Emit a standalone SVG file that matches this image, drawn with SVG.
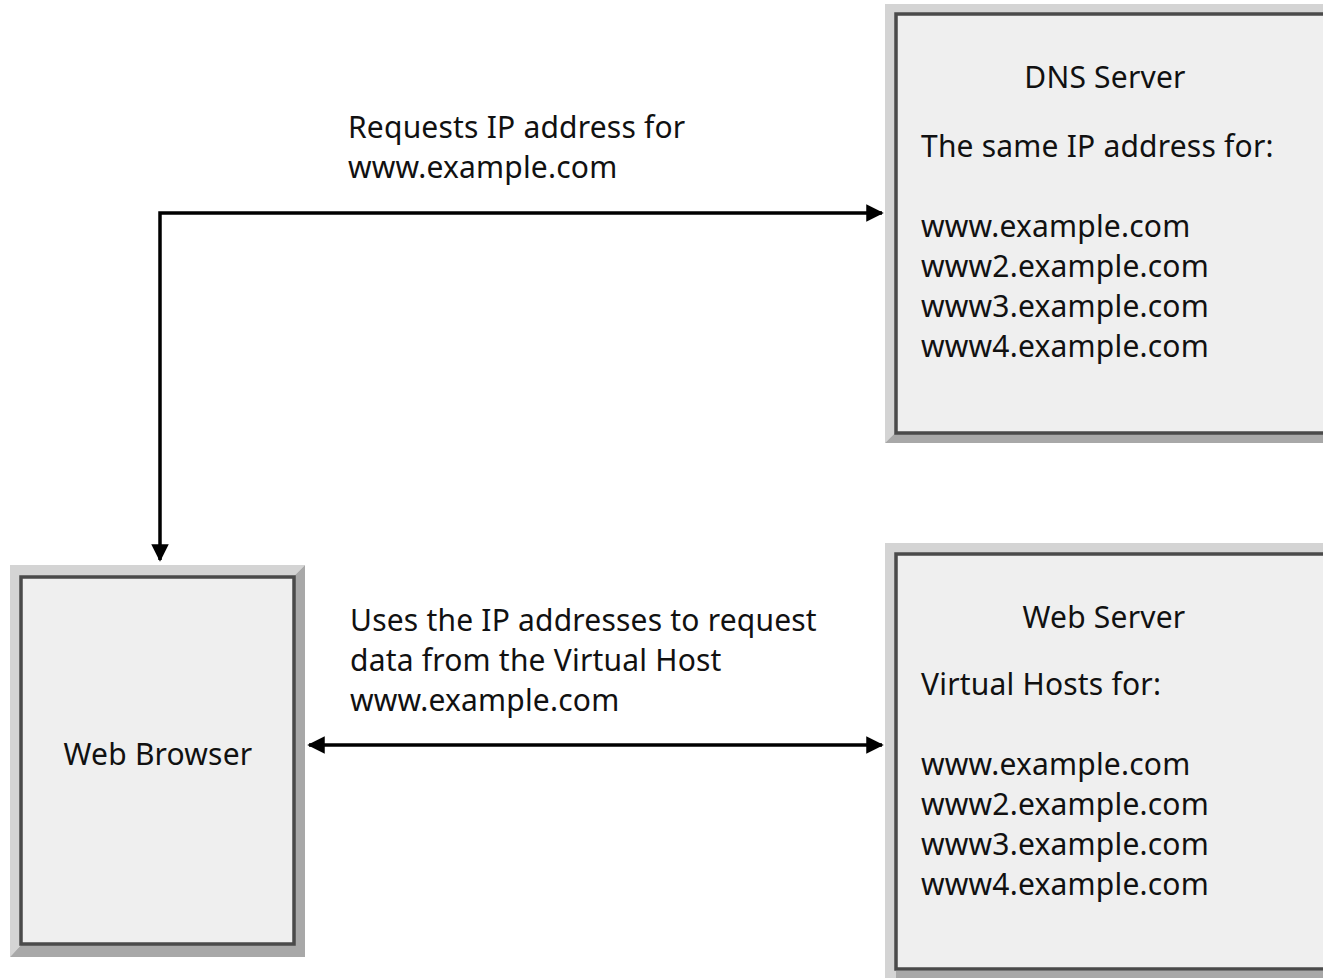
<svg xmlns="http://www.w3.org/2000/svg" width="1323" height="978" viewBox="0 0 1323 978">
  <defs>
    <style>
      .lbl { font-family: "Noto Sans", "DejaVu Sans", sans-serif; font-size: 30px; letter-spacing: 0.2px; fill: #111; }
      .mid { text-anchor: middle; }
      .lite { fill: #d4d4d4; }
      .dark { fill: #a8a8a8; }
      .face { fill: #efefef; stroke: #4a4a4a; stroke-width: 3.5; }
      .wire { fill: none; stroke: #000; stroke-width: 3.5; }
    </style>
    <marker id="head" viewBox="0 0 10 10" refX="9" refY="5" markerWidth="5" markerHeight="5" orient="auto-start-reverse" markerUnits="strokeWidth">
      <path d="M0,0 L10,5 L0,10 Z" fill="#000"/>
    </marker>
  </defs>
  <rect width="1323" height="978" fill="#fff"/>

  <!-- DNS server box -->
  <g id="dns">
    <polygon class="lite" points="885,4 1323,4 1323,14 896,14 896,432 885,443"/>
    <polygon class="dark" points="885,443 896,432 1323,432 1323,443"/>
    <rect class="face" x="896" y="14" width="440" height="419"/>
    <text class="lbl mid" x="1105" y="88">DNS Server</text>
    <text class="lbl" x="921" y="157">The same IP address for:</text>
    <text class="lbl" x="921" y="237">www.example.com</text>
    <text class="lbl" x="921" y="277">www2.example.com</text>
    <text class="lbl" x="921" y="317">www3.example.com</text>
    <text class="lbl" x="921" y="357">www4.example.com</text>
  </g>

  <!-- Web server box -->
  <g id="webserver">
    <polygon class="lite" points="885,543 1323,543 1323,554 896,554 896,978 885,978"/>
    <rect class="face" x="896" y="554" width="440" height="415"/>
    <rect class="dark" x="896" y="971" width="427" height="7"/>
    <text class="lbl mid" x="1104" y="628">Web Server</text>
    <text class="lbl" x="921" y="695">Virtual Hosts for:</text>
    <text class="lbl" x="921" y="775">www.example.com</text>
    <text class="lbl" x="921" y="815">www2.example.com</text>
    <text class="lbl" x="921" y="855">www3.example.com</text>
    <text class="lbl" x="921" y="895">www4.example.com</text>
  </g>

  <!-- Web browser box -->
  <g id="browser">
    <polygon class="lite" points="10,565 305,565 294,576 21,576 21,945 10,957"/>
    <polygon class="dark" points="305,565 305,957 10,957 21,945 294,945 294,576"/>
    <rect class="face" x="21" y="577" width="273" height="367"/>
    <text class="lbl mid" x="158" y="765">Web Browser</text>
  </g>

  <!-- connectors -->
  <g id="connectors">
    <polyline class="wire" points="160,560 160,213 882,213" marker-start="url(#head)" marker-end="url(#head)"/>
    <line class="wire" x1="309" y1="745" x2="882" y2="745" marker-start="url(#head)" marker-end="url(#head)"/>
    <text class="lbl" x="348" y="138">Requests IP address for</text>
    <text class="lbl" x="348" y="178">www.example.com</text>
    <text class="lbl" x="350" y="631">Uses the IP addresses to request</text>
    <text class="lbl" x="350" y="671">data from the Virtual Host</text>
    <text class="lbl" x="350" y="711">www.example.com</text>
  </g>
</svg>
